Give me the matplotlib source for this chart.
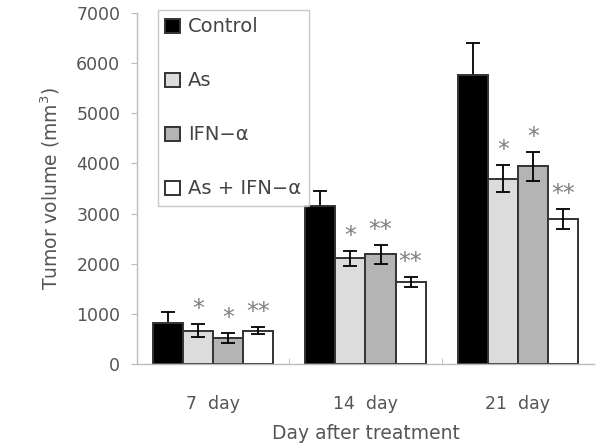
import matplotlib.pyplot as plt
import numpy as np

days = ["7  day", "14  day", "21  day"]
groups = ["Control", "As", "IFN\u2212\u03b1", "As + IFN\u2212\u03b1"]
means = [
    [820, 3160, 5770],   # Control
    [660, 2110, 3700],   # As
    [520, 2190, 3940],   # IFN-a
    [660, 1630, 2890],   # As + IFN-a
]
errors = [
    [220, 290, 640],
    [130, 150, 270],
    [100, 190, 290],
    [70, 100, 200],
]
stars = [
    ["", "", ""],
    ["*", "*", "*"],
    ["*", "**", "*"],
    ["**", "**", "**"],
]
colors = ["#000000", "#dcdcdc", "#b4b4b4", "#ffffff"]

plt.rcParams["font.family"] = ["DejaVu Sans"]

fig = plt.figure(figsize=(5.96, 4.44), dpi=100)
ax = fig.add_axes([0.2299, 0.18, 0.7667, 0.7907])

x = np.arange(len(days))
width = 0.197
offsets = (np.arange(len(groups)) - 1.5) * width

handles = []
for i, g in enumerate(groups):
    bars = ax.bar(x + offsets[i], means[i], width, color=colors[i],
                  edgecolor="#333333", linewidth=1.4, label=g, zorder=2)
    ax.errorbar(x + offsets[i], means[i], yerr=errors[i], fmt="none",
                ecolor="#000000", elinewidth=1.3, capsize=5, capthick=1.3,
                zorder=1.9 if i == 0 else 3)
    handles.append(bars)
    for j in range(len(days)):
        if stars[i][j]:
            ax.text(x[j] + offsets[i], means[i][j] + errors[i][j] + 60,
                    stars[i][j], ha="center", va="bottom", fontsize=17,
                    color="#808080")

ax.set_xlim(-0.5, 2.5)
ax.set_ylim(0, 7000)
ax.set_yticks(range(0, 7001, 1000))
ax.set_xticks(x)
ax.set_xticklabels(days)
ax.set_xticks([0.5, 1.5], minor=True)

for s in ["top", "right"]:
    ax.spines[s].set_visible(False)
for s in ["left", "bottom"]:
    ax.spines[s].set_color("#bbbbbb")
    ax.spines[s].set_linewidth(1.0)

ax.tick_params(axis="y", direction="out", length=4, color="#bbbbbb",
               labelsize=12.5, labelcolor="#555555", pad=8)
ax.tick_params(axis="x", which="major", length=0, labelsize=12.5,
               labelcolor="#555555", pad=22)
ax.tick_params(axis="x", which="minor", direction="in", length=4,
               color="#bbbbbb")

ax.set_ylabel("Tumor volume (mm$^3$)", fontsize=13.5, color="#555555",
              labelpad=10)
ax.set_xlabel("Day after treatment", fontsize=13.5, color="#555555",
              labelpad=8)

leg = fig.legend(handles=handles, labels=groups, loc="upper left",
                 bbox_to_anchor=(0.248, 1.0), fontsize=14,
                 labelspacing=1.8, handlelength=0.75, handleheight=0.75,
                 handletextpad=0.4, borderpad=0.4, frameon=True,
                 fancybox=False, labelcolor="#444444")
leg.get_frame().set_edgecolor("#bbbbbb")
leg.get_frame().set_linewidth(1.0)

fig.savefig("out.png", dpi=100)
